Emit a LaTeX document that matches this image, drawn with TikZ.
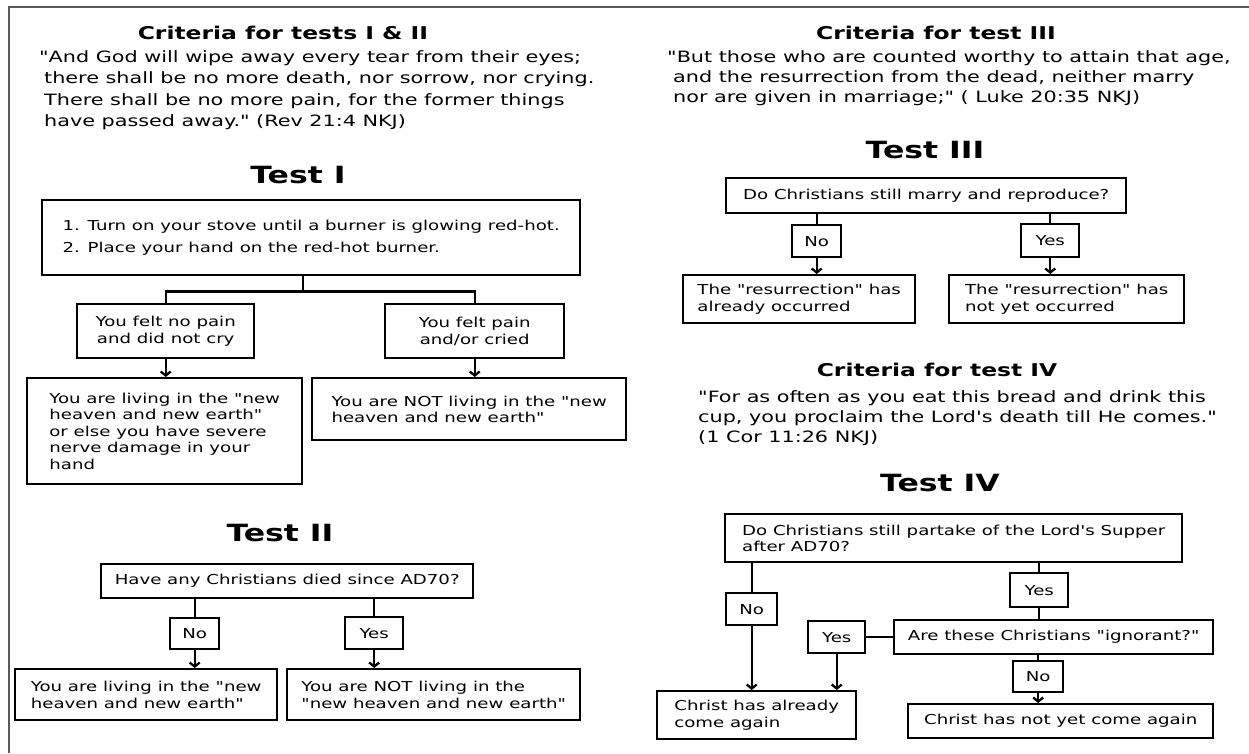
\documentclass[tikz,border=0pt]{standalone}
\usepackage{fontspec}
\setmainfont{DejaVu Sans}[FakeStretch=1.33, Ligatures=TeXOff]
\usetikzlibrary{arrows.meta}

\tikzset{
  hdr/.style={font=\bfseries\fontsize{17.6}{20}\selectfont},
  ttl/.style={font=\bfseries\fontsize{23.7}{26}\selectfont},
  verse/.style={anchor=north west, align=left, inner sep=0pt, font=\fontsize{15.6}{20}\selectfont},
  box/.style={draw, line width=2.4pt, anchor=north west, align=left, inner sep=0pt,
    font=\fontsize{13.65}{16.5}\selectfont},
  tag/.style={box, align=center},
  link/.style={line width=2.3pt},
  arr/.style={link, -{Straight Barb[length=4pt,width=10pt]}},
  frame/.style={line width=1.5pt, black!65},
}

\begin{document}
\begin{tikzpicture}[x=1pt, y=-1pt]

  \fill[white] (0,0) rectangle (1249,753);
  \useasboundingbox (0,0) rectangle (1249,753);

  %--- cornice
  \draw[frame] (9,753) -- (9,7) -- (1249,7);

  %--- criteri test I e II
  \node[hdr] (crit12) at (283,33) {Criteria for tests I \& II};
  \node[verse, font=\fontsize{15.6}{21.5}\selectfont] (verse12) at (39,50)
    {"And God will wipe away every tear from their eyes;\\
     \hspace*{5pt}there shall be no more death, nor sorrow, nor crying.\\
     \hspace*{5pt}There shall be no more pain, for the former things\\
     \hspace*{5pt}have passed away." (Rev 21:4 NKJ)};

  %--- test I
  \node[ttl] (test1) at (298,175) {Test I};
  \node[box, minimum width=538, minimum height=75] (stove) at (41,199)
    {1. Turn on your stove until a burner is glowing red-hot.\\[5.5pt]
     2. Place your hand on the red-hot burner.};
  \node[tag, minimum width=177, minimum height=54] (nopain) at (76,303)
    {You felt no pain\\and did not cry};
  \node[tag, minimum width=179, minimum height=54] (pain) at (384,303)
    {You felt pain\\and/or cried};
  \node[box, minimum width=275, minimum height=106] (newearth1) at (26,377)
    {You are living in the "new\\heaven and new earth"\\or else you have severe\\nerve damage in your\\hand};
  \node[box, minimum width=314, minimum height=62] (notnew1) at (311,377)
    {You are NOT living in the "new\\heaven and new earth"};

  \draw[link] ([xshift=-8pt]stove.south) -- ++(0,15) -| (nopain.north);
  \draw[link] ([xshift=-8pt]stove.south) -- ++(0,15) -| (pain.north);
  \draw[arr] (nopain.south) -- (nopain.south |- newearth1.north);
  \draw[arr] (pain.south) -- (pain.south |- notnew1.north);

  %--- test II
  \node[ttl] (test2) at (280,533) {Test II};
  \node[tag, minimum width=372, minimum height=34] (died) at (100,563)
    {Have any Christians died since AD70?};
  \node[tag, minimum width=49, minimum height=31] (no2) at (169,617) {No};
  \node[tag, minimum width=58, minimum height=32] (yes2) at (344,616) {Yes};
  \node[box, minimum width=262, minimum height=51] (newearth2) at (14,668)
    {You are living in the "new\\heaven and new earth"};
  \node[box, minimum width=293, minimum height=51] (notnew2) at (286,668)
    {You are NOT living in the\\"new heaven and new earth"};

  \draw[link] (died.south -| no2.north) -- (no2.north);
  \draw[arr] (no2.south) -- (no2.south |- newearth2.north);
  \draw[link] (died.south -| yes2.north) -- (yes2.north);
  \draw[arr] (yes2.south) -- (yes2.south |- notnew2.north);

  %--- criteri test III
  \node[hdr] (crit3) at (936,33) {Criteria for test III};
  \node[verse] (verse3) at (667,50)
    {"But those who are counted worthy to attain that age,\\
     \hspace*{6pt}and the resurrection from the dead, neither marry\\
     \hspace*{6pt}nor are given in marriage;" ( Luke 20:35 NKJ)};

  %--- test III
  \node[ttl] (test3) at (925,150) {Test III};
  \node[tag, minimum width=400, minimum height=35] (marry) at (725,177)
    {Do Christians still marry and reproduce?};
  \node[tag, minimum width=49, minimum height=32] (no3) at (791,224) {No};
  \node[tag, minimum width=58, minimum height=33] (yes3) at (1020,223) {Yes};
  \node[box, minimum width=232, minimum height=48] (occurred) at (682,274)
    {The "resurrection" has\\already occurred};
  \node[box, minimum width=235, minimum height=48] (notyet) at (948,274)
    {The "resurrection" has\\not yet occurred};

  \draw[link] (marry.south -| no3.north) -- (no3.north);
  \draw[arr] (no3.south) -- (no3.south |- occurred.north);
  \draw[link] (marry.south -| yes3.north) -- (yes3.north);
  \draw[arr] (yes3.south) -- (yes3.south |- notyet.north);

  %--- criteri test IV
  \node[hdr] (crit4) at (937,370) {Criteria for test IV};
  \node[verse] (verse4) at (698,390)
    {"For as often as you eat this bread and drink this\\
     cup, you proclaim the Lord's death till He comes."\\
     (1 Cor 11:26 NKJ)};

  %--- test IV
  \node[ttl] (test4) at (940,483) {Test IV};
  \node[box, minimum width=457, minimum height=48] (supper) at (724,513)
    {Do Christians still partake of the Lord's Supper\\after AD70?};
  \node[tag, minimum width=51, minimum height=32] (no4) at (725,592) {No};
  \node[tag, minimum width=58, minimum height=34] (yes4) at (1009,572) {Yes};
  \node[tag, minimum width=319, minimum height=34] (ignorant) at (893,619)
    {Are these Christians "ignorant?"};
  \node[tag, minimum width=57, minimum height=32] (yes4b) at (807,620) {Yes};
  \node[tag, minimum width=50, minimum height=31] (no4b) at (1012,660) {No};
  \node[box, minimum width=199, minimum height=48] (already) at (656,690)
    {Christ has already\\come again};
  \node[box, minimum width=305, minimum height=34] (notcome) at (907,703)
    {Christ has not yet come again};

  \draw[link] (supper.south -| no4.north) -- (no4.north);
  \draw[arr] (no4.south) -- (no4.south |- already.north);
  \draw[link] (supper.south -| yes4.north) -- (yes4.north);
  \draw[link] (yes4.south) -- (yes4.south |- ignorant.north);
  \draw[link] (ignorant.west) -- (ignorant.west -| yes4b.east);
  \draw[arr] (yes4b.south) -- (yes4b.south |- already.north);
  \draw[link] (ignorant.south -| no4b.north) -- (no4b.north);
  \draw[arr] (no4b.south) -- (no4b.south |- notcome.north);
\end{tikzpicture}
\end{document}
